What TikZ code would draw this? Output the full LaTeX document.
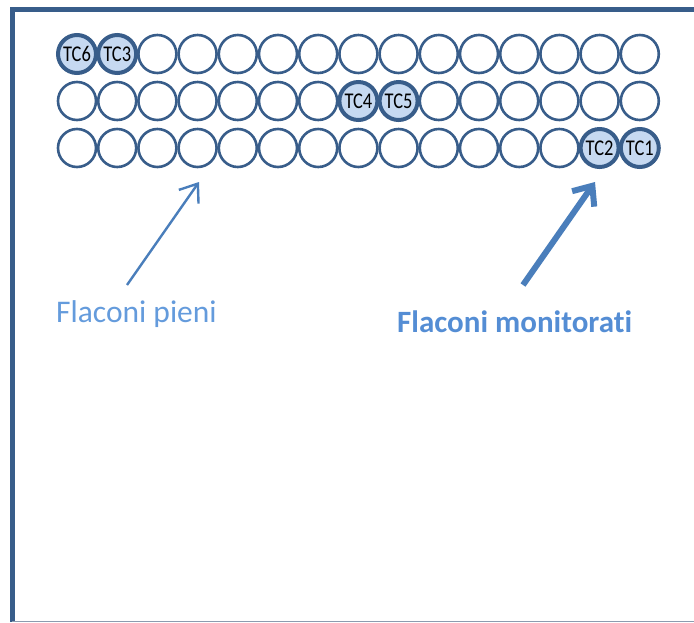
\documentclass[tikz,border=0pt]{standalone}
\usepackage{fontspec}
\setmainfont{Carlito}[Ligatures=NoCommon]
\usetikzlibrary{arrows.meta}

\definecolor{vialline}{RGB}{56,93,138}
\definecolor{vialfill}{RGB}{198,217,241}
\definecolor{arrowblue}{RGB}{74,126,187}
\definecolor{pieniblue}{RGB}{100,155,220}
\definecolor{monitblue}{RGB}{84,141,212}
\definecolor{edgegray}{RGB}{140,155,175}

\tikzset{
  vial/.style   = {circle, draw=vialline, line width=2.6pt, minimum size=38pt, inner sep=0pt},
  probe/.style  = {vial, fill=vialfill, line width=4pt},
  tclabel/.style = {font=\fontsize{22.5}{22}\selectfont, text=black, inner sep=0pt},
  % monitored vials, by row-column
  well 1-1/.style = {probe, label={[tclabel]center:\scalebox{0.82}[1]{TC6}}},
  well 1-2/.style = {probe, label={[tclabel]center:\scalebox{0.82}[1]{TC3}}},
  well 2-8/.style = {probe, label={[tclabel]center:\scalebox{0.82}[1]{TC4}}},
  well 2-9/.style = {probe, label={[tclabel]center:\scalebox{0.82}[1]{TC5}}},
  well 3-14/.style = {probe, label={[tclabel]center:\scalebox{0.82}[1]{TC2}}},
  well 3-15/.style = {probe, label={[tclabel]center:\scalebox{0.82}[1]{TC1}}},
  thinarrow/.style = {draw=arrowblue, line width=2.4pt, -{Straight Barb[length=16pt, width=24pt]}},
  thickarrow/.style = {draw=arrowblue, line width=6pt, -{Straight Barb[length=16pt, width=27pt]}}
}

\begin{document}
\begin{tikzpicture}[x=1pt, y=-1pt]
  \useasboundingbox (0,0) rectangle (694,622);

  % tray edges
  \draw[vialline, line width=5pt] (12,622) -- (12,9.5) -- (694,9.5);
  \draw[edgegray, line width=1pt] (12,621) -- (694,621);

  % vials
  \foreach \r/\yy in {1/54, 2/101, 3/148}
    \foreach \c in {1,...,15}
      \node[vial, well \r-\c/.try] (v-\r-\c) at ({77+40.2*(\c-1)}, \yy) {};

  % labels
  \node[anchor=base west, inner sep=0pt, text=pieniblue,
        font=\fontsize{31.5}{32}\selectfont] (pieni) at (56,322) {Flaconi pieni};
  \node[anchor=base west, inner sep=0pt, text=monitblue,
        font=\fontsize{31}{32}\selectfont\bfseries] (monit) at (397,332) {Flaconi monitorati};

  \coordinate (pieni-tail) at (127,285);
  \coordinate (pieni-tip)  at (199,182);
  \coordinate (monit-tail) at (523,285);
  \coordinate (monit-tip)  at (595,182);

  \draw[thinarrow] (pieni-tail) -- (pieni-tip);
  \draw[thickarrow] (monit-tail) -- (monit-tip);
\end{tikzpicture}
\end{document}
